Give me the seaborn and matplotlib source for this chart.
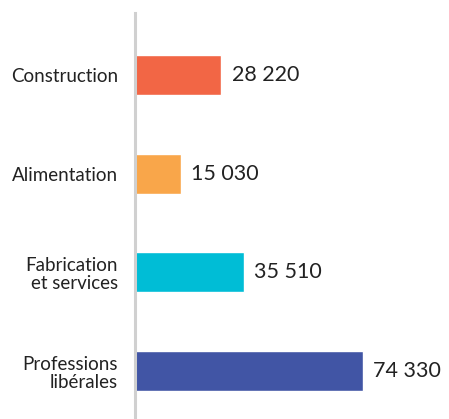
import seaborn as sns
import pandas as pd
import matplotlib.pyplot as plt

categories = ["Construction", "Alimentation", "Fabrication\net services", "Professions\nlibérales"]
values = [28220, 15030, 35510, 74330]
value_labels = ["28 220", "15 030", "35 510", "74 330"]
colors = ["#F26645", "#F9A64A", "#00BDD6", "#4155A5"]

df = pd.DataFrame({"category": categories, "value": values})

sns.set_style("white")
plt.rcParams['font.family'] = ['Lato', 'DejaVu Sans']

fig = plt.figure(figsize=(4.49, 4.19), dpi=100)
ax = fig.add_axes([134.5 / 449, 0, (449 - 134.5) / 449, 406 / 419])

sns.barplot(data=df, y="category", x="value", hue="category", palette=colors,
            orient="h", width=0.405, legend=False, saturation=1, ax=ax)

for i, (v, lab) in enumerate(zip(values, value_labels)):
    ax.text(v + 3400, i, lab, va="center", ha="left", fontsize=15.5, color="#222222")

ax.set_xlim(0, 102300)
ax.set_ylim(3.486, -0.628)
ax.set(xlabel="", ylabel="")
ax.set_xticks([])
ax.tick_params(axis="y", length=0, pad=12, labelsize=13.5, labelcolor="#222222")
for lab in ax.get_yticklabels():
    lab.set_ha("right")
    lab.set_multialignment("right")
    lab.set_linespacing(1.1)
for s in ["top", "right", "bottom"]:
    ax.spines[s].set_visible(False)
ax.spines["left"].set_color("#d0d0d0")
ax.spines["left"].set_linewidth(2.2)

fig.savefig("out.png", dpi=100)
